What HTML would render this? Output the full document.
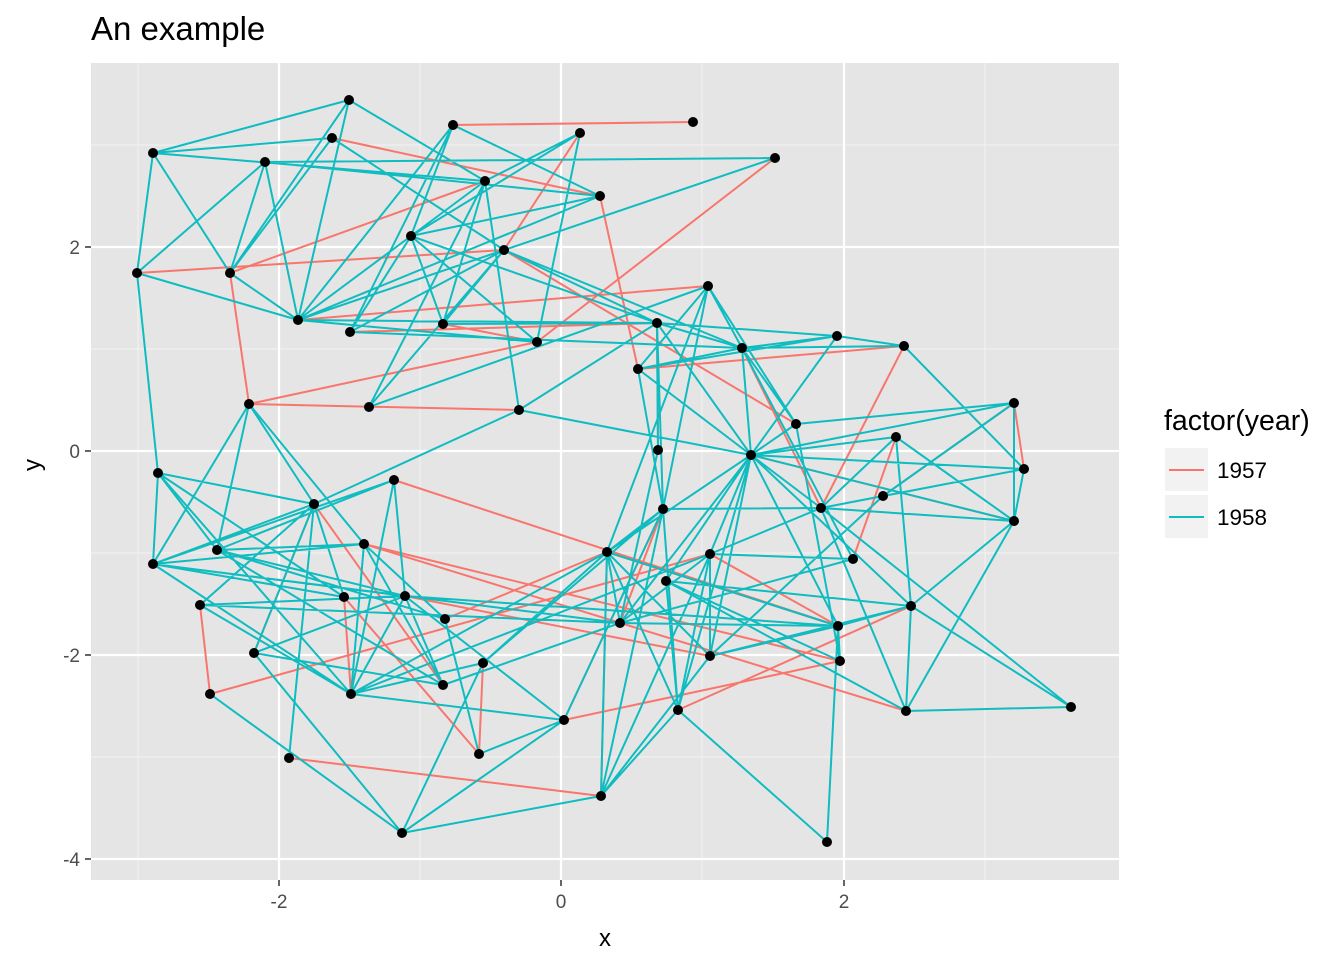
<!DOCTYPE html>
<html><head><meta charset="utf-8"><style>
body{margin:0;background:#fff;}
svg text{font-family:"Liberation Sans",Arial,sans-serif;}
</style></head><body>
<svg width="1344" height="960" viewBox="0 0 1344 960" xmlns="http://www.w3.org/2000/svg">
<rect x="0" y="0" width="1344" height="960" fill="#fff"/>
<rect x="91" y="63" width="1028" height="817" fill="#e5e5e5"/>
<g stroke="#f2f2f2" stroke-width="1.1">
<line x1="138" y1="63" x2="138" y2="880"/><line x1="420" y1="63" x2="420" y2="880"/>
<line x1="702" y1="63" x2="702" y2="880"/><line x1="985" y1="63" x2="985" y2="880"/>
<line x1="91" y1="145" x2="1119" y2="145"/><line x1="91" y1="349" x2="1119" y2="349"/>
<line x1="91" y1="553" x2="1119" y2="553"/><line x1="91" y1="757" x2="1119" y2="757"/>
</g>
<g stroke="#fff" stroke-width="2.2">
<line x1="279" y1="63" x2="279" y2="880"/><line x1="561" y1="63" x2="561" y2="880"/>
<line x1="844" y1="63" x2="844" y2="880"/>
<line x1="91" y1="247" x2="1119" y2="247"/><line x1="91" y1="451" x2="1119" y2="451"/>
<line x1="91" y1="655" x2="1119" y2="655"/><line x1="91" y1="859" x2="1119" y2="859"/>
</g>
<g stroke="#f8766d" stroke-width="2" fill="none">
<path d="M453,125L693,122 M332,138L600,196 M137,273L504,250 M230,273L249,404 M249,404L519,410 M249,404L537,342 M775,158L537,342 M580,133L504,250 M600,196L638,369 M350,332L657,323 M443,324L537,342 M504,250L796,424 M638,369L904,346 M742,348L821,508 M904,346L821,508 M658,450L657,323 M751,455L1014,521 M1014,403L1014,521 M1014,403L1024,469 M394,480L838,626 M364,544L840,661 M200,605L210,694 M210,694L710,554 M314,504L254,653 M314,504L443,685 M289,758L601,796 M601,796L607,552 M344,597L351,694 M344,597L479,754 M479,754L483,663 M564,720L840,661 M678,710L911,606 M364,544L906,711 M445,619L607,552 M838,626L710,656 M405,596L710,656 M564,720L663,509 M853,559L896,437 M230,273L485,181 M298,320L708,286 M620,623L663,509 M710,554L838,626 M883,496L1014,403 M607,552L838,626 M904,346L638,369"/>
</g>
<g stroke="#0fbcc0" stroke-width="2" fill="none">
<path d="M349,100L230,273 M349,100L485,181 M349,100L298,320 M349,100L153,153 M453,125L411,236 M453,125L600,196 M453,125L350,332 M453,125L298,320 M580,133L411,236 M580,133L537,342 M580,133L485,181 M775,158L504,250 M775,158L265,162 M332,138L230,273 M332,138L153,153 M332,138L504,250 M153,153L137,273 M153,153L230,273 M153,153L485,181 M265,162L137,273 M265,162L230,273 M265,162L298,320 M265,162L600,196 M485,181L443,324 M485,181L519,410 M485,181L411,236 M485,181L369,407 M600,196L411,236 M600,196L298,320 M411,236L298,320 M411,236L537,342 M411,236L443,324 M411,236L657,323 M411,236L350,332 M504,250L298,320 M504,250L369,407 M504,250L657,323 M504,250L742,348 M504,250L350,332 M504,250L443,324 M137,273L298,320 M137,273L158,473 M230,273L298,320 M298,320L657,323 M298,320L537,342 M350,332L742,348 M443,324L657,323 M657,323L837,336 M657,323L742,348 M657,323L751,455 M657,323L658,450 M657,323L663,509 M708,286L742,348 M708,286L796,424 M708,286L638,369 M708,286L663,509 M708,286L607,552 M742,348L837,336 M742,348L904,346 M742,348L751,455 M742,348L853,559 M742,348L638,369 M837,336L904,346 M837,336L638,369 M837,336L751,455 M904,346L1024,469 M638,369L751,455 M638,369L837,336 M638,369L663,509 M369,407L708,286 M519,410L657,323 M519,410L314,504 M519,410L751,455 M249,404L314,504 M249,404L217,550 M249,404L153,564 M249,404L364,544 M1014,403L751,455 M1014,403L883,496 M1014,403L1014,521 M1014,403L796,424 M796,424L840,661 M796,424L751,455 M796,424L742,348 M896,437L751,455 M896,437L821,508 M896,437L911,606 M896,437L1014,521 M751,455L1024,469 M751,455L1014,521 M751,455L821,508 M751,455L607,552 M751,455L710,554 M751,455L666,581 M751,455L620,623 M751,455L838,626 M751,455L710,656 M751,455L678,710 M751,455L911,606 M821,508L1024,469 M821,508L1014,521 M821,508L883,496 M821,508L663,509 M821,508L710,554 M1024,469L883,496 M1024,469L1014,521 M1014,521L821,508 M1014,521L911,606 M1014,521L906,711 M158,473L153,564 M158,473L217,550 M158,473L344,597 M158,473L351,694 M158,473L314,504 M394,480L153,564 M394,480L405,596 M394,480L351,694 M394,480L217,550 M314,504L153,564 M314,504L289,758 M314,504L344,597 M314,504L200,605 M314,504L254,653 M364,544L153,564 M364,544L445,619 M364,544L351,694 M364,544L217,550 M364,544L443,685 M153,564L405,596 M153,564L344,597 M153,564L351,694 M153,564L620,623 M217,550L405,596 M217,550L445,619 M217,550L443,685 M200,605L405,596 M200,605L620,623 M200,605L351,694 M254,653L405,596 M254,653L443,685 M254,653L402,833 M351,694L405,596 M351,694L483,663 M351,694L710,554 M351,694L607,552 M405,596L443,685 M405,596L838,626 M405,596L564,720 M445,619L479,754 M483,663L607,552 M483,663L663,509 M443,685L620,623 M479,754L564,720 M402,833L601,796 M402,833L564,720 M402,833L483,663 M210,694L402,833 M564,720L663,509 M607,552L710,656 M607,552L678,710 M607,552L663,509 M607,552L838,626 M607,552L620,623 M620,623L658,450 M620,623L838,626 M620,623L710,554 M666,581L911,606 M666,581L840,661 M666,581L678,710 M666,581L906,711 M710,554L678,710 M710,554L710,656 M710,554L853,559 M710,656L838,626 M710,656L601,796 M710,656L911,606 M710,656L883,496 M678,710L663,509 M678,710L827,842 M678,710L601,796 M838,626L911,606 M838,626L827,842 M838,626L840,661 M911,606L906,711 M906,711L1071,707 M906,711L821,508 M1071,707L821,508 M1071,707L911,606 M840,661L796,424 M853,559L620,623 M601,796L607,552 M601,796L710,554 M601,796L663,509 M289,758L314,504 M564,720L351,694"/>
</g>
<g fill="#000">
<circle cx="349" cy="100" r="5"/><circle cx="453" cy="125" r="5"/><circle cx="693" cy="122" r="5"/><circle cx="580" cy="133" r="5"/><circle cx="332" cy="138" r="5"/><circle cx="153" cy="153" r="5"/><circle cx="265" cy="162" r="5"/><circle cx="775" cy="158" r="5"/><circle cx="485" cy="181" r="5"/><circle cx="600" cy="196" r="5"/><circle cx="411" cy="236" r="5"/><circle cx="504" cy="250" r="5"/><circle cx="137" cy="273" r="5"/><circle cx="230" cy="273" r="5"/><circle cx="708" cy="286" r="5"/><circle cx="298" cy="320" r="5"/><circle cx="350" cy="332" r="5"/><circle cx="443" cy="324" r="5"/><circle cx="657" cy="323" r="5"/><circle cx="537" cy="342" r="5"/><circle cx="742" cy="348" r="5"/><circle cx="837" cy="336" r="5"/><circle cx="904" cy="346" r="5"/><circle cx="638" cy="369" r="5"/><circle cx="249" cy="404" r="5"/><circle cx="369" cy="407" r="5"/><circle cx="519" cy="410" r="5"/><circle cx="1014" cy="403" r="5"/><circle cx="796" cy="424" r="5"/><circle cx="896" cy="437" r="5"/><circle cx="658" cy="450" r="5"/><circle cx="751" cy="455" r="5"/><circle cx="1024" cy="469" r="5"/><circle cx="158" cy="473" r="5"/><circle cx="394" cy="480" r="5"/><circle cx="883" cy="496" r="5"/><circle cx="314" cy="504" r="5"/><circle cx="663" cy="509" r="5"/><circle cx="821" cy="508" r="5"/><circle cx="1014" cy="521" r="5"/><circle cx="364" cy="544" r="5"/><circle cx="607" cy="552" r="5"/><circle cx="710" cy="554" r="5"/><circle cx="217" cy="550" r="5"/><circle cx="853" cy="559" r="5"/><circle cx="153" cy="564" r="5"/><circle cx="666" cy="581" r="5"/><circle cx="344" cy="597" r="5"/><circle cx="405" cy="596" r="5"/><circle cx="200" cy="605" r="5"/><circle cx="911" cy="606" r="5"/><circle cx="445" cy="619" r="5"/><circle cx="620" cy="623" r="5"/><circle cx="838" cy="626" r="5"/><circle cx="254" cy="653" r="5"/><circle cx="710" cy="656" r="5"/><circle cx="483" cy="663" r="5"/><circle cx="840" cy="661" r="5"/><circle cx="443" cy="685" r="5"/><circle cx="210" cy="694" r="5"/><circle cx="351" cy="694" r="5"/><circle cx="678" cy="710" r="5"/><circle cx="906" cy="711" r="5"/><circle cx="1071" cy="707" r="5"/><circle cx="564" cy="720" r="5"/><circle cx="479" cy="754" r="5"/><circle cx="289" cy="758" r="5"/><circle cx="601" cy="796" r="5"/><circle cx="402" cy="833" r="5"/><circle cx="827" cy="842" r="5"/>
</g>
<g stroke="#333" stroke-width="1.5">
<line x1="279" y1="880" x2="279" y2="886"/><line x1="561" y1="880" x2="561" y2="886"/><line x1="844" y1="880" x2="844" y2="886"/>
<line x1="85" y1="247" x2="91" y2="247"/><line x1="85" y1="451" x2="91" y2="451"/><line x1="85" y1="655" x2="91" y2="655"/><line x1="85" y1="859" x2="91" y2="859"/>
</g>
<g fill="#4d4d4d" font-size="19">
<text x="279" y="908" text-anchor="middle">-2</text><text x="561" y="908" text-anchor="middle">0</text><text x="844" y="908" text-anchor="middle">2</text>
<text x="80" y="254" text-anchor="end">2</text><text x="80" y="458" text-anchor="end">0</text><text x="80" y="662" text-anchor="end">-2</text><text x="80" y="866" text-anchor="end">-4</text>
</g>
<text x="605" y="946" font-size="24" text-anchor="middle" fill="#000">x</text>
<text x="40" y="465" font-size="24" text-anchor="middle" fill="#000" transform="rotate(-90 40 465)">y</text>
<text x="91" y="40" font-size="33" fill="#000">An example</text>
<text x="1164" y="430" font-size="28.5" fill="#000">factor(year)</text>
<rect x="1165" y="448" width="43" height="43" fill="#f2f2f2"/>
<rect x="1165" y="495" width="43" height="43" fill="#f2f2f2"/>
<line x1="1169" y1="470" x2="1204" y2="470" stroke="#f8766d" stroke-width="2"/>
<line x1="1169" y1="517" x2="1204" y2="517" stroke="#0fbcc0" stroke-width="2"/>
<text x="1217" y="478" font-size="22.5" fill="#000">1957</text>
<text x="1217" y="525" font-size="22.5" fill="#000">1958</text>
</svg>
</body></html>
